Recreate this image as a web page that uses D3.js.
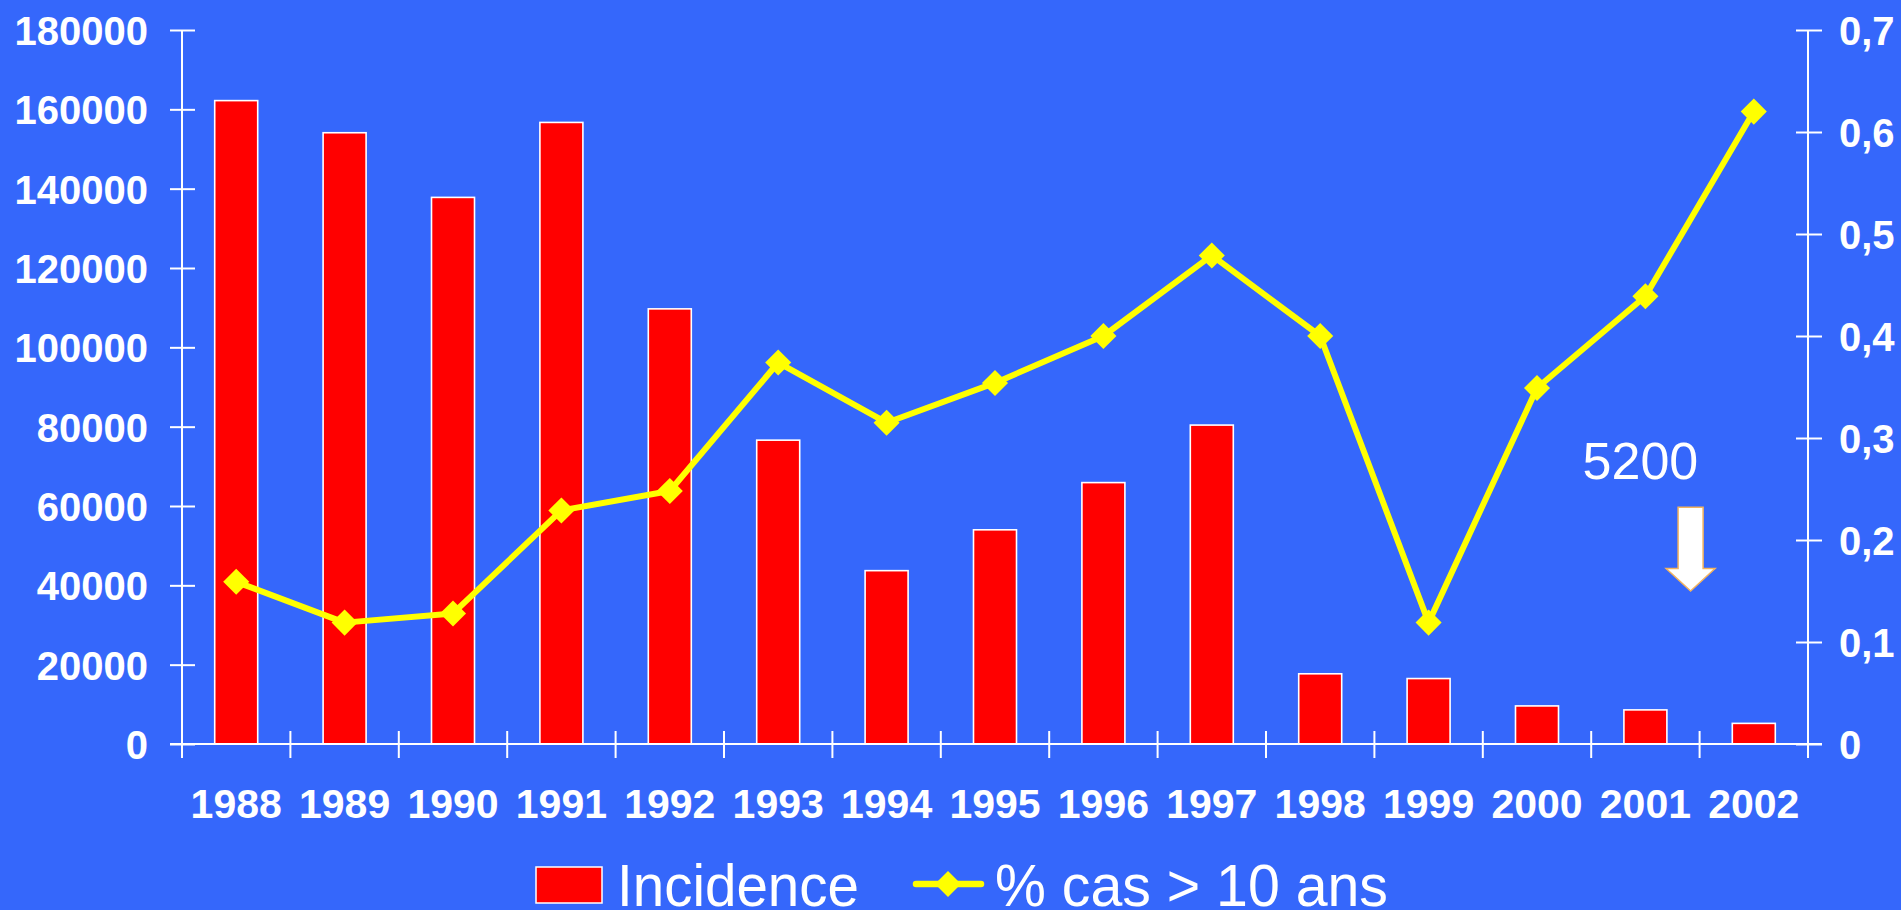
<!DOCTYPE html>
<html>
<head>
<meta charset="utf-8">
<script src="https://cdn.jsdelivr.net/npm/d3@7"></script>
<style>
  html, body { margin: 0; padding: 0; background: #3567fb; overflow: hidden; }
  text { font-family: "Liberation Sans", Arial, sans-serif; fill: #fff; }
</style>
</head>
<body>
<div id="chart"></div>
<script>
var years = ["1988", "1989", "1990", "1991", "1992", "1993", "1994", "1995",
  "1996", "1997", "1998", "1999", "2000", "2001", "2002"];
var incidence = [162200, 154100, 137800, 156700, 109700, 76600, 43700, 54000,
  65900, 80400, 17700, 16500, 9600, 8600, 5200];
var pctOver10 = [0.159, 0.119, 0.128, 0.229, 0.248, 0.374, 0.315, 0.354,
  0.40, 0.479, 0.40, 0.119, 0.349, 0.439, 0.62];
var leftTicks = [0, 20000, 40000, 60000, 80000, 100000, 120000, 140000, 160000, 180000];
var rightTicks = [0, 0.1, 0.2, 0.3, 0.4, 0.5, 0.6, 0.7];
var seriesNames = ["Incidence", "% cas > 10 ans"];
var noteLabel = "5200";

var width = 1901, height = 910;
var margin = { top: 30, right: 93, bottom: 166, left: 182 };
var x0 = margin.left, x1 = width - margin.right;
var y0 = height - margin.bottom, y1 = margin.top;

var svg = d3.select("#chart").append("svg")
  .attr("width", width)
  .attr("height", height);

svg.append("rect").attr("width", width).attr("height", height).attr("fill", "#3567fb");

var x = d3.scaleBand().domain(years).range([x0, x1]).padding(0);
var yL = d3.scaleLinear().domain([0, 180000]).range([y0, y1]);
var yR = d3.scaleLinear().domain([0, 0.7]).range([y0, y1]);

var frLocale = d3.formatLocale({ decimal: ",", thousands: " ", grouping: [3], currency: ["", " €"] });
var fmtR = frLocale.format("~g");

// bars
var barW = 43;
svg.append("g").selectAll("rect")
  .data(incidence)
  .enter().append("rect")
  .attr("x", function (d, i) { return x(years[i]) + x.bandwidth() / 2 - barW / 2; })
  .attr("y", function (d) { return yL(d); })
  .attr("width", barW)
  .attr("height", function (d) { return y0 - yL(d); })
  .attr("fill", "#ff0000")
  .attr("stroke", "#fff")
  .attr("stroke-width", 1.6);

// left axis
var axL = svg.append("g")
  .attr("transform", "translate(" + x0 + ",0)")
  .call(d3.axisLeft(yL).tickValues(leftTicks).tickSize(12).tickPadding(0).tickFormat(d3.format("d")));
axL.select(".domain").remove();
axL.selectAll(".tick line").attr("x1", 13).attr("x2", -12).attr("stroke", "#fff").attr("stroke-width", 2);
axL.selectAll(".tick text")
  .attr("x", -34).attr("dy", "0.36em")
  .style("font-size", "40px").style("font-weight", "bold").attr("fill", "#fff");
axL.append("line").attr("x1", 0).attr("x2", 0).attr("y1", y1).attr("y2", y0 + 14)
  .attr("stroke", "#fff").attr("stroke-width", 2);

// right axis
var axR = svg.append("g")
  .attr("transform", "translate(" + x1 + ",0)")
  .call(d3.axisRight(yR).tickValues(rightTicks).tickSize(12).tickPadding(0).tickFormat(fmtR));
axR.select(".domain").remove();
axR.selectAll(".tick line").attr("x1", -12).attr("x2", 14).attr("stroke", "#fff").attr("stroke-width", 2);
axR.selectAll(".tick text")
  .attr("x", 31).attr("dy", "0.36em")
  .style("font-size", "40px").style("font-weight", "bold").attr("fill", "#fff");
axR.append("line").attr("x1", 0).attr("x2", 0).attr("y1", y1).attr("y2", y0 + 14)
  .attr("stroke", "#fff").attr("stroke-width", 2);

// bottom axis: ticks at band boundaries, labels at centers
var axB = svg.append("g").attr("transform", "translate(0," + y0 + ")");
axB.append("line").attr("x1", x0 - 12).attr("x2", x1 + 14).attr("y1", 0).attr("y2", 0)
  .attr("stroke", "#fff").attr("stroke-width", 2);
var bounds = years.map(function (d) { return x(d); }).concat([x1]);
axB.selectAll(".xt").data(bounds).enter().append("line")
  .attr("x1", function (d) { return d; }).attr("x2", function (d) { return d; })
  .attr("y1", -13).attr("y2", 14)
  .attr("stroke", "#fff").attr("stroke-width", 2);
axB.selectAll(".xl").data(years).enter().append("text")
  .attr("x", function (d) { return x(d) + x.bandwidth() / 2; })
  .attr("y", 74)
  .attr("text-anchor", "middle")
  .style("font-size", "41px").style("font-weight", "bold")
  .text(function (d) { return d; });

// line + markers
var line = d3.line()
  .x(function (d, i) { return x(years[i]) + x.bandwidth() / 2; })
  .y(function (d) { return yR(d); });
svg.append("path").datum(pctOver10)
  .attr("d", line)
  .attr("fill", "none")
  .attr("stroke", "#ffff00")
  .attr("stroke-width", 6)
  .attr("stroke-linejoin", "round");
var diamond = d3.symbol().type(d3.symbolSquare).size(340);
svg.append("g").selectAll("path")
  .data(pctOver10)
  .enter().append("path")
  .attr("d", diamond)
  .attr("transform", function (d, i) {
    return "translate(" + (x(years[i]) + x.bandwidth() / 2) + "," + yR(d) + ") rotate(45)";
  })
  .attr("fill", "#ffff00");

// annotation 5200 + arrow
var ax = x("2002") - 9;
svg.append("text")
  .attr("x", ax - 108).attr("y", yR(0.26))
  .style("font-size", "52px")
  .text(noteLabel);
var sTop = yR(0.232), hTop = yR(0.172), tip = yR(0.15);
svg.append("path")
  .attr("d", "M" + (ax - 12.5) + "," + sTop + "H" + (ax + 12.5) + "V" + hTop +
    "H" + (ax + 24.5) + "L" + ax + "," + tip + "L" + (ax - 24.5) + "," + hTop +
    "H" + (ax - 12.5) + "Z")
  .attr("fill", "#fff")
  .attr("stroke", "#f2b35e")
  .attr("stroke-width", 1.5);

// legend
var leg = svg.append("g");
leg.append("rect").attr("x", 536).attr("y", 867).attr("width", 66).attr("height", 36)
  .attr("fill", "#ff0000").attr("stroke", "#fff").attr("stroke-width", 1.5);
leg.append("text").attr("x", 617).attr("y", 906)
  .style("font-size", "60px")
  .attr("textLength", 242).attr("lengthAdjust", "spacingAndGlyphs")
  .text(seriesNames[0]);
leg.append("line").attr("x1", 916).attr("x2", 981).attr("y1", 884).attr("y2", 884)
  .attr("stroke", "#ffff00").attr("stroke-width", 6.5).attr("stroke-linecap", "round");
leg.append("path").attr("d", diamond)
  .attr("transform", "translate(948,884) rotate(45)")
  .attr("fill", "#ffff00");
leg.append("text").attr("x", 995).attr("y", 906)
  .style("font-size", "60px")
  .attr("textLength", 393).attr("lengthAdjust", "spacingAndGlyphs")
  .text(seriesNames[1]);
</script>
</body>
</html>
